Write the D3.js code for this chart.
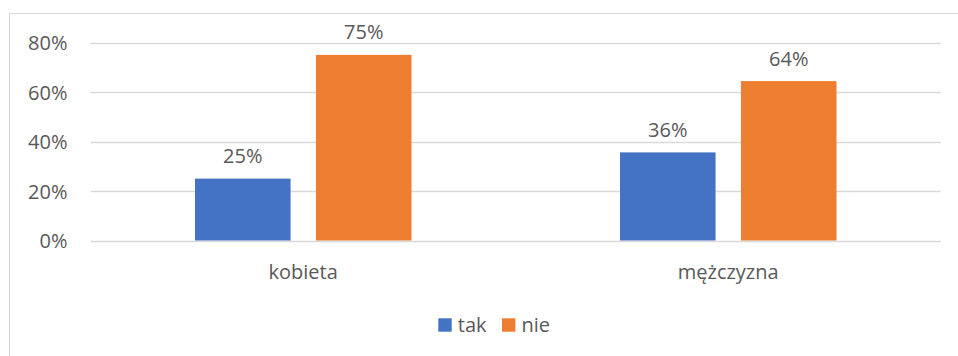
<!DOCTYPE html>
<html>
<head>
<meta charset="utf-8">
<script src="https://cdn.jsdelivr.net/npm/d3@7"></script>
<style>
  html, body { margin: 0; padding: 0; background: #fff; }
  svg { display: block; }
  text { font-family: "Open Sans", "Noto Sans", sans-serif; fill: #595959; }
</style>
</head>
<body>
<svg id="chart" width="958" height="356"></svg>
<script>
const categories = ["kobieta", "mężczyzna"];
const seriesNames = ["tak", "nie"];
const takValues = [0.25, 0.356];
const nieValues = [0.75, 0.644];
const yTicks = [0, 0.2, 0.4, 0.6, 0.8];
const colors = ["#4472C4", "#ED7D31"];

const seriesValues = [takValues, nieValues];
const svg = d3.select("#chart");
const W = 958, H = 356;
const fontSize = 20;

svg.append("rect").attr("width", W).attr("height", H).attr("fill", "#fff");
// chart border (extends beyond right and bottom edges)
svg.append("rect").attr("x", 9.5).attr("y", 13.5).attr("width", 1000).attr("height", 400)
  .attr("fill", "none").attr("stroke", "#D9D9D9").attr("stroke-width", 1);

const plotL = 90.7, plotR = 940.7, plotB = 240.5, plotT = 42.5;
const y = d3.scaleLinear().domain([0, 0.8]).range([plotB, plotT]);
const x0 = d3.scaleBand().domain(categories).range([plotL, plotR]).padding(0);
const x1 = d3.scaleBand().domain(seriesNames).range([104.3, 320.8]).paddingInner(0.21).paddingOuter(0);
const fmt = d3.format(".0%");

// gridlines
svg.append("g").selectAll("line").data(yTicks).join("line")
  .attr("x1", plotL).attr("x2", plotR)
  .attr("y1", d => Math.round(y(d)) + 0.5).attr("y2", d => Math.round(y(d)) + 0.5)
  .attr("stroke", "#D9D9D9").attr("stroke-width", 1.3);

// y tick labels
svg.append("g").selectAll("text").data(yTicks).join("text")
  .attr("x", 67.5).attr("y", d => y(d) + 7.8)
  .attr("text-anchor", "end").attr("font-size", fontSize)
  .text(d => fmt(d));

// bars
const groups = svg.append("g").selectAll("g").data(categories).join("g")
  .attr("transform", c => `translate(${x0(c)},0)`);

groups.selectAll("rect").data((c, ci) => seriesNames.map((s, si) => ({s, si, v: seriesValues[si][ci]})))
  .join("rect")
  .attr("x", d => x1(d.s)).attr("width", x1.bandwidth())
  .attr("y", d => y(d.v)).attr("height", d => plotB - y(d.v))
  .attr("fill", d => colors[d.si]);

groups.selectAll("text.lbl").data((c, ci) => seriesNames.map((s, si) => ({s, si, v: seriesValues[si][ci]})))
  .join("text").attr("class", "lbl")
  .attr("x", d => x1(d.s) + x1.bandwidth() / 2)
  .attr("y", d => y(d.v) - 15.5)
  .attr("text-anchor", "middle").attr("font-size", fontSize)
  .text(d => fmt(d.v));

// category labels
svg.append("g").selectAll("text").data(categories).join("text")
  .attr("x", c => x0(c) + x0.bandwidth() / 2)
  .attr("y", 278.5)
  .attr("text-anchor", "middle").attr("font-size", fontSize)
  .text(c => c);

// legend
const legendX = [438.3, 502];
const leg = svg.append("g").selectAll("g").data(seriesNames).join("g")
  .attr("transform", (d, i) => `translate(${legendX[i]},318.3)`);
leg.append("rect").attr("width", 13.4).attr("height", 13.4).attr("fill", (d, i) => colors[i]);
leg.append("text").attr("x", 19.5).attr("y", 13.4).attr("font-size", fontSize).text(d => d);
</script>
</body>
</html>
